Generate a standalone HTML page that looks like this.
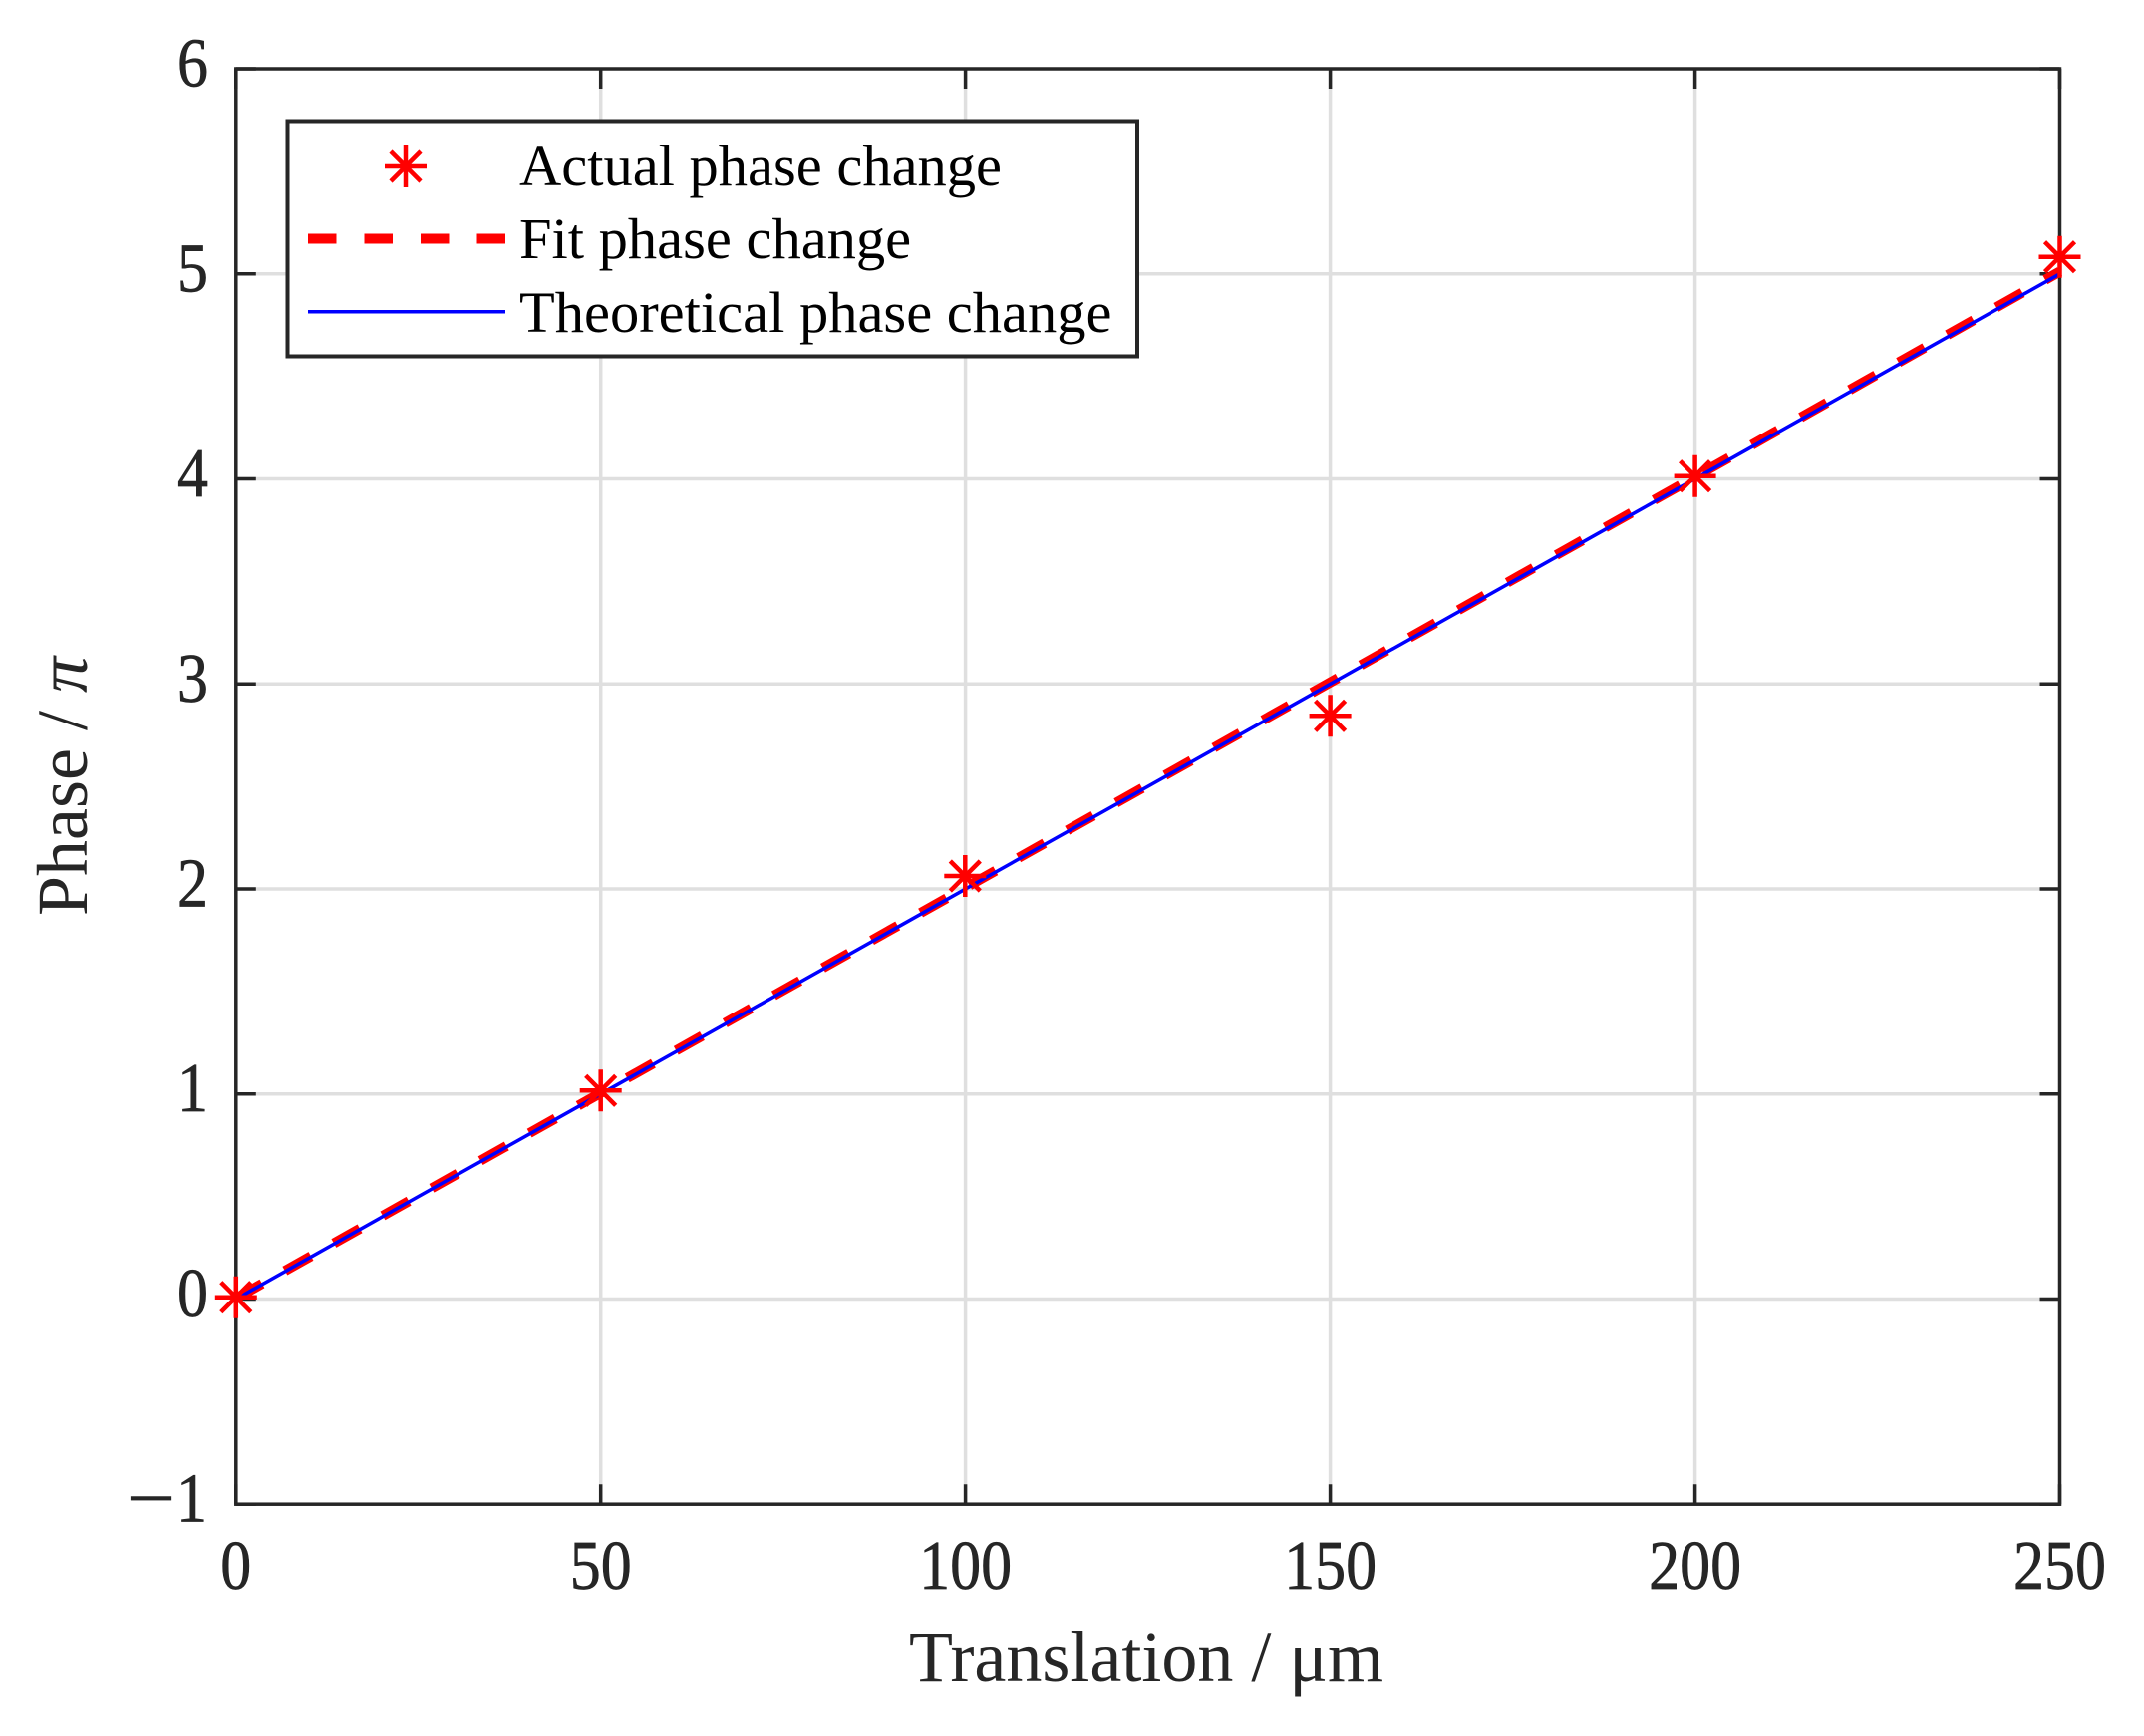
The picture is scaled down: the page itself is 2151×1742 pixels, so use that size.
<!DOCTYPE html>
<html>
<head>
<meta charset="utf-8">
<style>
  html,body{margin:0;padding:0;background:#fff;}
  svg{display:block;}
  .tk{font-family:"Liberation Serif",serif;font-size:62px;fill:#262626;stroke:#262626;stroke-width:0.6px;}
  .lg{font-family:"Liberation Serif",serif;font-size:58.5px;fill:#000;}
  .al{font-family:"Liberation Serif",serif;font-size:72px;fill:#262626;}
</style>
</head>
<body>
<svg width="2151" height="1742" viewBox="0 0 2151 1742" xmlns="http://www.w3.org/2000/svg">
  <rect x="0" y="0" width="2151" height="1742" fill="#fff"/>
  <!-- grid -->
  <g stroke="#dfdfdf" stroke-width="3.5">
    <line x1="602.7" y1="69" x2="602.7" y2="1509.2"/>
    <line x1="968.6" y1="69" x2="968.6" y2="1509.2"/>
    <line x1="1334.6" y1="69" x2="1334.6" y2="1509.2"/>
    <line x1="1700.6" y1="69" x2="1700.6" y2="1509.2"/>
    <line x1="236.8" y1="1303.5" x2="2066.5" y2="1303.5"/>
    <line x1="236.8" y1="1097.7" x2="2066.5" y2="1097.7"/>
    <line x1="236.8" y1="892" x2="2066.5" y2="892"/>
    <line x1="236.8" y1="686.3" x2="2066.5" y2="686.3"/>
    <line x1="236.8" y1="480.5" x2="2066.5" y2="480.5"/>
    <line x1="236.8" y1="274.8" x2="2066.5" y2="274.8"/>
  </g>
  <!-- axes box and ticks -->
  <g stroke="#262626" stroke-width="3.5" fill="none">
    <rect x="236.8" y="69" width="1829.7" height="1440.2"/>
    <path d="M236.8 1509.2v-20 M602.7 1509.2v-20 M968.6 1509.2v-20 M1334.6 1509.2v-20 M1700.6 1509.2v-20 M2066.5 1509.2v-20
             M236.8 69v20 M602.7 69v20 M968.6 69v20 M1334.6 69v20 M1700.6 69v20 M2066.5 69v20"/>
    <path d="M236.8 1509.2h20 M236.8 1303.5h20 M236.8 1097.7h20 M236.8 892h20 M236.8 686.3h20 M236.8 480.5h20 M236.8 274.8h20 M236.8 69h20
             M2066.5 1509.2h-20 M2066.5 1303.5h-20 M2066.5 1097.7h-20 M2066.5 892h-20 M2066.5 686.3h-20 M2066.5 480.5h-20 M2066.5 274.8h-20 M2066.5 69h-20"/>
  </g>
  <!-- y tick labels -->
  <g class="tk" text-anchor="end">
    <text transform="translate(176,1526.5) scale(1.4,1.12)">−</text>
    <text transform="translate(208,1526.5) scale(1,1.12)">1</text>
    <text transform="translate(209,1321) scale(1,1.12)">0</text>
    <text transform="translate(209,1115.2) scale(1,1.12)">1</text>
    <text transform="translate(209,909.5) scale(1,1.12)">2</text>
    <text transform="translate(209,703.8) scale(1,1.12)">3</text>
    <text transform="translate(209,498) scale(1,1.12)">4</text>
    <text transform="translate(209,292.3) scale(1,1.12)">5</text>
    <text transform="translate(209,86.5) scale(1,1.12)">6</text>
  </g>
  <!-- x tick labels -->
  <g class="tk" text-anchor="middle">
    <text transform="translate(236.8,1594) scale(1,1.12)">0</text>
    <text transform="translate(602.7,1594) scale(1,1.12)">50</text>
    <text transform="translate(968.6,1594) scale(1,1.12)">100</text>
    <text transform="translate(1334.6,1594) scale(1,1.12)">150</text>
    <text transform="translate(1700.6,1594) scale(1,1.12)">200</text>
    <text transform="translate(2066.5,1594) scale(1,1.12)">250</text>
  </g>
  <!-- axis labels -->
  <text class="al" x="1150" y="1687" text-anchor="middle">Translation / μm</text>
  <text class="al" transform="translate(87,789) rotate(-90)" text-anchor="middle">Phase / <tspan font-style="italic">π</tspan></text>

  <!-- fit dashed line -->
  <line x1="236.8" y1="1302.8" x2="2066.5" y2="272.5" stroke="#ff0000" stroke-width="10" stroke-dasharray="30 26.3" stroke-linecap="butt"/>
  <!-- theoretical line -->
  <line x1="236.8" y1="1303.5" x2="2066.5" y2="274.8" stroke="#0000ff" stroke-width="3.5"/>
  <!-- markers -->
  <defs>
    <g id="star" stroke="#ff0000" stroke-width="4.5" fill="none">
      <path d="M-21 0H21 M0 -21V21 M-15 -15L15 15 M-15 15L15 -15"/>
    </g>
  </defs>
  <use href="#star" x="236.8" y="1301.7"/>
  <use href="#star" x="602.7" y="1094.3"/>
  <use href="#star" x="968.3" y="879"/>
  <use href="#star" x="1334.6" y="718.3"/>
  <use href="#star" x="1700.6" y="477.7"/>
  <use href="#star" x="2066.5" y="257.7"/>

  <!-- legend -->
  <rect x="288.5" y="121.5" width="852.5" height="236" fill="#fff" stroke="#262626" stroke-width="4"/>
  <use href="#star" x="407" y="167"/>
  <line x1="309" y1="239.5" x2="507" y2="239.5" stroke="#ff0000" stroke-width="10" stroke-dasharray="28.5 28"/>
  <line x1="309" y1="312.7" x2="507" y2="312.7" stroke="#0000ff" stroke-width="3.5"/>
  <g class="lg">
    <text x="521" y="186">Actual phase change</text>
    <text x="521" y="259">Fit phase change</text>
    <text x="521" y="333">Theoretical phase change</text>
  </g>
</svg>
</body>
</html>
